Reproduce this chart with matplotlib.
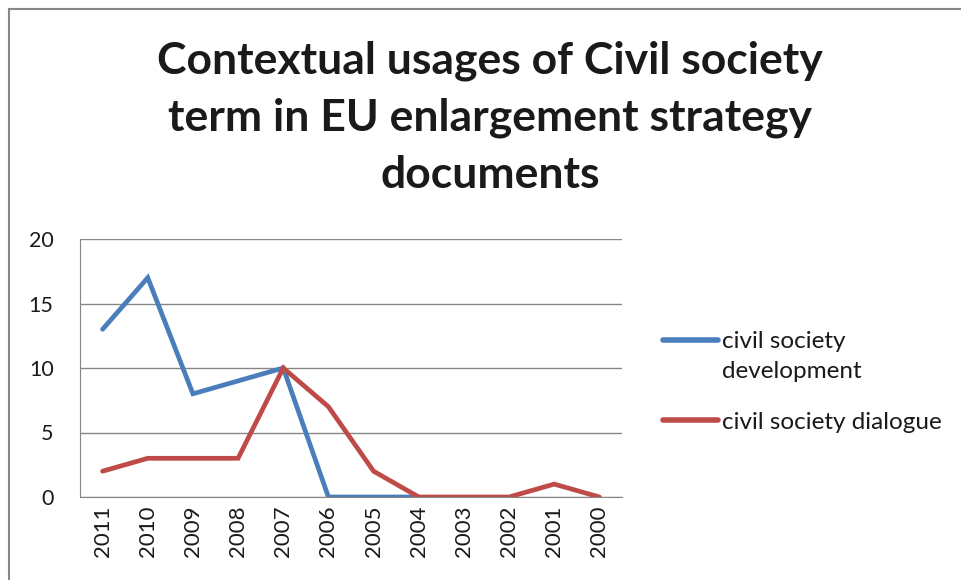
import numpy as np
import matplotlib.pyplot as plt
from matplotlib.patches import Rectangle
from matplotlib.transforms import ScaledTranslation

years = ['2011', '2010', '2009', '2008', '2007', '2006', '2005', '2004',
         '2003', '2002', '2001', '2000']
development = [13, 17, 8, 9, 10, 0, 0, 0, np.nan, np.nan, np.nan, np.nan]
dialogue = [2, 3, 3, 3, 10, 7, 2, 0, 0, 0, 1, 0]

plt.rcParams['font.family'] = ['Lato', 'DejaVu Sans']

fig = plt.figure(figsize=(9.61, 5.8), dpi=100)
ax = fig.add_axes([80 / 961, 1 - 497 / 580, 542 / 961, 258 / 580])

x = np.arange(len(years))
ax.plot(x, development, color='#4A7EBB', lw=3.4, solid_capstyle='round',
        solid_joinstyle='miter', label='civil society\ndevelopment')
ax.plot(x, dialogue, color='#BE4B48', lw=3.4, solid_capstyle='round',
        solid_joinstyle='miter', label='civil society dialogue')

ax.set_xlim(-0.5, len(years) - 0.5)
ax.set_ylim(0, 20)
ax.set_yticks([0, 5, 10, 15, 20])
ax.yaxis.grid(True, color='#868686', lw=1)
ax.set_axisbelow(True)
for s in ['top', 'right']:
    ax.spines[s].set_visible(False)
for s in ['left', 'bottom']:
    ax.spines[s].set_color('#868686')
ax.tick_params(axis='y', length=0, labelsize=15.5, pad=19, labelcolor='#1a1a1a')
ax.set_xticks(x)
ax.set_xticklabels(years, rotation=90, fontsize=16, color='#1a1a1a')
ax.tick_params(axis='x', length=0, pad=6)

fig.suptitle('Contextual usages of Civil society\nterm in EU enlargement strategy\ndocuments',
             x=0.51, y=0.93, fontsize=32, fontweight='bold', color='#1a1a1a',
             linespacing=1.5)

leg = ax.legend(loc='upper left', bbox_to_anchor=(663 / 961, 1 - 331 / 580),
                bbox_transform=fig.transFigure, frameon=False, fontsize=17.5,
                handlelength=2.26, handletextpad=0.15, labelspacing=1.2,
                borderpad=0, borderaxespad=0, labelcolor='#1a1a1a')
for t in leg.get_texts():
    t.set_linespacing(1.55)
# put the first handle level with the first line of its label, as in Excel
first = leg.get_lines()[0]
first.set_transform(first.get_transform()
                    + ScaledTranslation(0, 12 / 72, fig.dpi_scale_trans))
for ln in leg.get_lines():
    ln.set_linewidth(4)

fig.patches.append(Rectangle((9 / 961, -0.1), 1.1, 1 - 9 / 580 + 0.1,
                             transform=fig.transFigure, fill=False,
                             edgecolor='#888888', lw=1.5))

fig.savefig('out.png', dpi=100)
